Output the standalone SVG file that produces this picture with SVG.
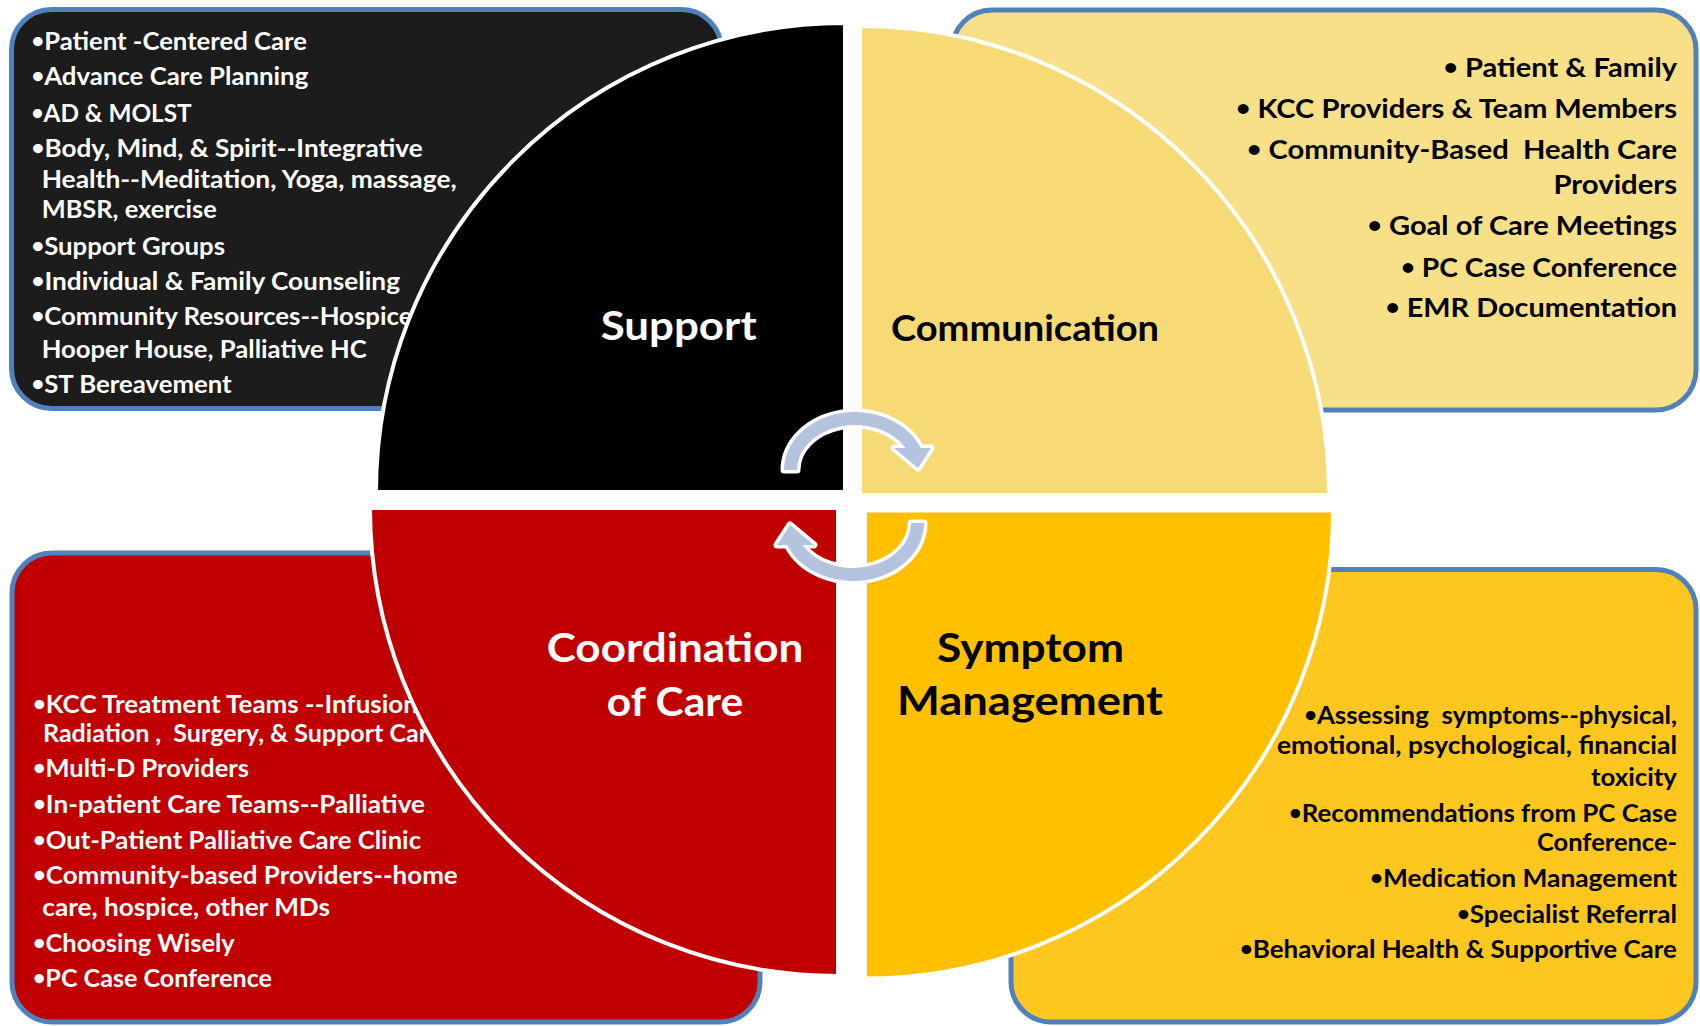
<svg xmlns="http://www.w3.org/2000/svg" width="1700" height="1026" viewBox="0 0 1700 1026">
<defs>
<style>
.box{stroke:#4F81BD;stroke-width:5}
.quad{stroke:#FFFFFF;stroke-width:4;stroke-linejoin:miter}
.t{font-family:Lato,"Open Sans","Liberation Sans",sans-serif;font-weight:700}
.s25{font-size:25px}
.s24{font-size:24px}
.s27{font-size:27px}
.lbl{font-size:40.5px}
.lbl2{font-size:36px}
.w{fill:#FFFFFF}
.k{fill:#000000}
.pre{white-space:pre}
.b{font-size:0.85em;baseline-shift:2px}
.cycle{fill:#B4C4DE;stroke:#FFFFFF;stroke-width:7;stroke-linejoin:round;paint-order:stroke}
</style>
</defs>
<rect width="1700" height="1026" fill="#FFFFFF"/>

<!-- detail lists behind the quarter discs -->
<g id="support-list">
<rect class="box" x="11.5" y="9.5" width="710" height="399" rx="40" fill="#1C1C1C"/>
<g class="t s25 w">
<text x="31.5" y="50" textLength="275.5" lengthAdjust="spacingAndGlyphs"><tspan class="b">•</tspan>Patient -Centered Care</text>
<text x="31.5" y="85" textLength="276.8" lengthAdjust="spacingAndGlyphs"><tspan class="b">•</tspan>Advance Care Planning</text>
<text x="31.5" y="121.7" textLength="160.2" lengthAdjust="spacingAndGlyphs"><tspan class="b">•</tspan>AD &amp; MOLST</text>
<text x="31.5" y="156.7" textLength="391.2" lengthAdjust="spacingAndGlyphs"><tspan class="b">•</tspan>Body, Mind, &amp; Spirit--Integrative</text>
<text x="41.7" y="188.3" textLength="415" lengthAdjust="spacingAndGlyphs">Health--Meditation, Yoga, massage,</text>
<text x="41.7" y="218.3" textLength="175" lengthAdjust="spacingAndGlyphs">MBSR, exercise</text>
<text x="31.5" y="255" textLength="193.5" lengthAdjust="spacingAndGlyphs"><tspan class="b">•</tspan>Support Groups</text>
<text x="31.5" y="290" textLength="368.5" lengthAdjust="spacingAndGlyphs"><tspan class="b">•</tspan>Individual &amp; Family Counseling</text>
<text x="31.5" y="325" textLength="381" lengthAdjust="spacingAndGlyphs"><tspan class="b">•</tspan>Community Resources--Hospice</text>
<text x="41.7" y="358" textLength="325" lengthAdjust="spacingAndGlyphs">Hooper House, Palliative HC</text>
<text x="31.5" y="393.3" textLength="200.2" lengthAdjust="spacingAndGlyphs"><tspan class="b">•</tspan>ST Bereavement</text>
</g>
</g>

<g id="communication-list">
<rect class="box" x="952" y="10" width="744" height="400" rx="40" fill="#F7E087"/>
<g class="t s27 k">
<text x="1443.5" y="77.3" textLength="233.5" lengthAdjust="spacingAndGlyphs"><tspan class="b">•</tspan> Patient &amp; Family</text>
<text x="1236" y="118.3" textLength="441" lengthAdjust="spacingAndGlyphs"><tspan class="b">•</tspan> KCC Providers &amp; Team Members</text>
<text class="pre" x="1247" y="159.3" textLength="430" lengthAdjust="spacingAndGlyphs"><tspan class="b">•</tspan> Community-Based  Health Care</text>
<text x="1553.5" y="194" textLength="123.5" lengthAdjust="spacingAndGlyphs">Providers</text>
<text x="1367.6" y="235" textLength="309.4" lengthAdjust="spacingAndGlyphs"><tspan class="b">•</tspan> Goal of Care Meetings</text>
<text x="1401" y="276.7" textLength="276" lengthAdjust="spacingAndGlyphs"><tspan class="b">•</tspan> PC Case Conference</text>
<text x="1385.5" y="316.7" textLength="291.5" lengthAdjust="spacingAndGlyphs"><tspan class="b">•</tspan> EMR Documentation</text>
</g>
</g>

<g id="coordination-list">
<rect class="box" x="12" y="553" width="748" height="469" rx="40" fill="#C00000"/>
<g class="t s24 w">
<text x="33" y="712.7" textLength="391" lengthAdjust="spacingAndGlyphs"><tspan class="b">•</tspan>KCC Treatment Teams --Infusion,</text>
<text class="pre" x="43" y="741.7" textLength="398" lengthAdjust="spacingAndGlyphs">Radiation ,  Surgery, &amp; Support Care</text>
<text x="33" y="777.3" textLength="216" lengthAdjust="spacingAndGlyphs"><tspan class="b">•</tspan>Multi-D Providers</text>
<text x="33" y="813.3" textLength="392" lengthAdjust="spacingAndGlyphs"><tspan class="b">•</tspan>In-patient Care Teams--Palliative</text>
<text x="33" y="849.3" textLength="388" lengthAdjust="spacingAndGlyphs"><tspan class="b">•</tspan>Out-Patient Palliative Care Clinic</text>
<text x="33" y="884.3" textLength="424.7" lengthAdjust="spacingAndGlyphs"><tspan class="b">•</tspan>Community-based Providers--home</text>
<text x="42.3" y="915.7" textLength="287.7" lengthAdjust="spacingAndGlyphs">care, hospice, other MDs</text>
<text x="33" y="951.7" textLength="201.7" lengthAdjust="spacingAndGlyphs"><tspan class="b">•</tspan>Choosing Wisely</text>
<text x="33" y="986.7" textLength="239" lengthAdjust="spacingAndGlyphs"><tspan class="b">•</tspan>PC Case Conference</text>
</g>
</g>

<g id="symptom-list">
<rect class="box" x="1011" y="569.5" width="685" height="452.5" rx="40" fill="#FDC71F"/>
<g class="t s24 k">
<text class="pre" x="1304.2" y="724" textLength="372.8" lengthAdjust="spacingAndGlyphs"><tspan class="b">•</tspan>Assessing  symptoms--physical,</text>
<text x="1277" y="754" textLength="400" lengthAdjust="spacingAndGlyphs">emotional, psychological, financial</text>
<text x="1591" y="786" textLength="86" lengthAdjust="spacingAndGlyphs">toxicity</text>
<text x="1289" y="821.7" textLength="388" lengthAdjust="spacingAndGlyphs"><tspan class="b">•</tspan>Recommendations from PC Case</text>
<text x="1537" y="851" textLength="140" lengthAdjust="spacingAndGlyphs">Conference-</text>
<text x="1370" y="886.7" textLength="307" lengthAdjust="spacingAndGlyphs"><tspan class="b">•</tspan>Medication Management</text>
<text x="1457" y="922.7" textLength="220" lengthAdjust="spacingAndGlyphs"><tspan class="b">•</tspan>Specialist Referral</text>
<text x="1240" y="958.3" textLength="437" lengthAdjust="spacingAndGlyphs"><tspan class="b">•</tspan>Behavioral Health &amp; Supportive Care</text>
</g>
</g>

<!-- quarter discs of the cycle matrix -->
<g id="support">
<path class="quad" d="M845,492 H376 A469,469 0 0 1 845,23 Z" fill="#000000"/>
<text class="t lbl w" x="600.7" y="339.5" textLength="156" lengthAdjust="spacingAndGlyphs">Support</text>
</g>
<g id="communication">
<path class="quad" d="M860,495 V26 A469,469 0 0 1 1329,495 Z" fill="#F5DA75"/>
<text class="t lbl2 k" x="891" y="340.5" textLength="268" lengthAdjust="spacingAndGlyphs">Communication</text>
</g>
<g id="coordination">
<path class="quad" d="M838,508 H370 A468,468 0 0 0 838,976 Z" fill="#C00000"/>
<text class="t lbl w" x="546.7" y="661.5" textLength="256.6" lengthAdjust="spacingAndGlyphs">Coordination</text>
<text class="t lbl w" x="606.7" y="715.5" textLength="136.6" lengthAdjust="spacingAndGlyphs">of Care</text>
</g>
<g id="symptom">
<path class="quad" d="M865,510.5 H1333 A468,468 0 0 1 865,978.5 Z" fill="#FFC000"/>
<text class="t lbl k" x="937" y="661.5" textLength="187" lengthAdjust="spacingAndGlyphs">Symptom</text>
<text class="t lbl k" x="897" y="715" textLength="266" lengthAdjust="spacingAndGlyphs">Management</text>
</g>

<!-- circular arrows in the centre -->
<g id="cycle-arrows">
<path id="arrow-top" class="cycle" d="M784,470 A71,58 0 0 1 920.7,448 L931,448 L918,468 L894,448 L905.6,448 A58,45 0 0 0 797,470 Z"/>
<path id="arrow-bottom" class="cycle" transform="rotate(180 854 496.5)" d="M784,470 A71,58 0 0 1 920.7,448 L931,448 L918,468 L894,448 L905.6,448 A58,45 0 0 0 797,470 Z"/>
</g>
</svg>
